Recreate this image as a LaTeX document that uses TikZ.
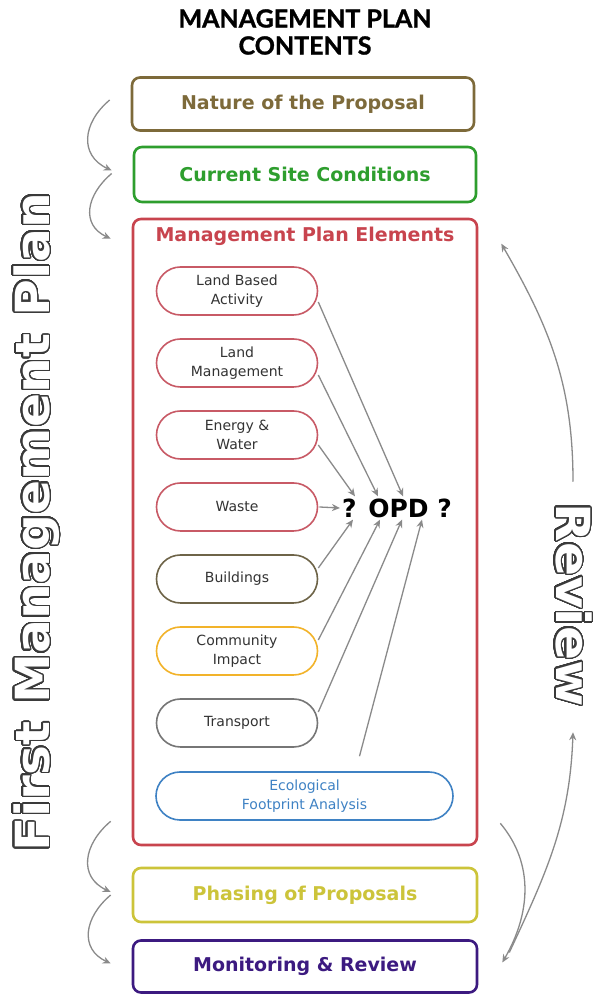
\documentclass[tikz,border=0pt]{standalone}
\usepackage{fontspec}
\setmainfont{DejaVu Sans}
\newfontfamily\titlefont{Lato}[BoldFeatures={FakeBold=1.2}]
\usepackage{xcolor}
\usepackage{contour}
\usepackage{tikz}
\usetikzlibrary{arrows.meta}
\definecolor{nature}{HTML}{7D6A3A}
\definecolor{site}{HTML}{2E9E2E}
\definecolor{elem}{HTML}{C8444E}
\definecolor{pillred}{HTML}{C85A66}
\definecolor{build}{HTML}{6E6448}
\definecolor{commy}{HTML}{F2B32A}
\definecolor{trans}{HTML}{767676}
\definecolor{eco}{HTML}{3F82C4}
\definecolor{phase}{HTML}{CCC43A}
\definecolor{monit}{HTML}{3C1A80}
\definecolor{arr}{HTML}{8A8A8A}
\definecolor{outl}{HTML}{3A3A3A}
\definecolor{ink}{HTML}{333333}
\contourlength{1.3pt}
\contournumber{48}
\tikzset{
  secbox/.style={draw, rounded corners=8pt, line width=2.6pt, minimum width=342pt, minimum height=53pt, inner sep=0pt, font=\fontsize{19}{21}\selectfont\bfseries},
  pill/.style={draw, rounded corners=24pt, line width=1.6pt, minimum width=161pt, minimum height=48pt, inner sep=0pt, align=center, text=ink, font=\fontsize{14}{19}\selectfont},
  flow/.style={draw=arr, line width=1.3pt, -{Stealth[length=8pt,width=7pt]}},
  bracket/.style={flow, out=220, in=155, looseness=1.3},
  side/.style={text=white, font=\fontsize{47}{50}\selectfont\bfseries}
}

\begin{document}
\begin{tikzpicture}[x=1pt,y=1pt]
  \fill[white] (0,0) rectangle (595,995);
  \useasboundingbox (0,0) rectangle (595,995);

  \node[align=center, font=\titlefont\fontsize{25}{27}\selectfont\bfseries] (title) at (305,963) {MANAGEMENT PLAN\\CONTENTS};

  \node[secbox, draw=nature, text=nature] (nature) at (303,891) {Nature of the Proposal};
  \node[secbox, draw=site, text=site, minimum height=55pt] (site) at (305,820.5) {Current Site Conditions};
  \node[draw=elem, rounded corners=8pt, line width=2.6pt, minimum width=344pt, minimum height=626pt] (mpe) at (305,463) {};
  \node[text=elem, font=\fontsize{19}{21}\selectfont\bfseries] (mpetitle) at ([yshift=-19pt]mpe.north) {Management Plan Elements};

  % element pills
  \node[pill, draw=pillred] (lba) at (237,704) {Land Based\\Activity};
  \node[pill, draw=pillred] (lmg) at (237,632) {Land\\Management};
  \node[pill, draw=pillred] (enw) at (237,560) {Energy \&\\Water};
  \node[pill, draw=pillred] (wst) at (237,488) {Waste};
  \node[pill, draw=build] (bld) at (237,416) {Buildings};
  \node[pill, draw=commy] (com) at (237,344) {Community\\Impact};
  \node[pill, draw=trans] (trn) at (237,272) {Transport};
  \node[pill, draw=eco, text=eco, minimum width=297pt] (eco) at (304.5,199) {Ecological\\Footprint Analysis};

  \node[inner sep=2pt, font=\fontsize{25}{27}\selectfont\bfseries] (opd) at (397,487) {? OPD ?};

  \draw[flow] ([yshift=-11pt]lba.east) -- ([xshift=6pt]opd.north);
  \draw[flow] ([yshift=-12pt]lmg.east) -- ([xshift=-19pt]opd.north);
  \draw[flow] ([yshift=-10pt]enw.east) -- ([xshift=-42pt]opd.north);
  \draw[flow] ([xshift=1pt]wst.east) -- (opd.west);
  \draw[flow] ([yshift=11pt]bld.east) -- ([xshift=-44pt]opd.south);
  \draw[flow] ([yshift=11pt]com.east) -- ([xshift=-17pt]opd.south);
  \draw[flow] ([yshift=11pt]trn.east) -- ([xshift=5pt]opd.south);
  \draw[flow] ([shift={(55pt,15pt)}]eco.north) -- ([xshift=25pt]opd.south);

  \node[secbox, draw=phase, text=phase, minimum width=344pt, minimum height=54pt] (phase) at (305,100) {Phasing of Proposals};
  \node[secbox, draw=monit, text=monit, minimum width=344pt, minimum height=52pt] (monit) at (305,28.5) {Monitoring \& Review};

  % side labels
  \node[side, rotate=90] (first) at (37,473) {\scalebox{1.07}[1]{\contour{outl}{First Management Plan}}};
  \node[side, rotate=-90] (review) at (573,390) {\scalebox{1.07}[1]{\contour{outl}{Review}}};

  % left brackets
  \draw[bracket] ([shift={(-21pt,4pt)}]nature.west) to ([shift={(-21pt,4pt)}]site.west);
  \draw[bracket] ([shift={(-21pt,1pt)}]site.west) to ([shift={(-21pt,-21pt)}]mpe.north west);
  \draw[bracket] ([shift={(-21pt,25pt)}]mpe.south west) to ([shift={(-21pt,3pt)}]phase.west);
  \draw[bracket] ([shift={(-21pt,0pt)}]phase.west) to ([shift={(-21pt,3pt)}]monit.west);

  % review loop
  \draw[flow] ([shift={(22pt,23pt)}]mpe.south east) to[out=-50,in=60] ([shift={(24pt,4pt)}]monit.east);
  \draw[flow] ([shift={(31pt,14pt)}]monit.east) to[out=65,in=-92] ([yshift=-22pt]review.east);
  \draw[flow] ([yshift=18pt]review.west) to[out=90,in=-60] ([shift={(23pt,-26pt)}]mpe.north east);
\end{tikzpicture}
\end{document}
